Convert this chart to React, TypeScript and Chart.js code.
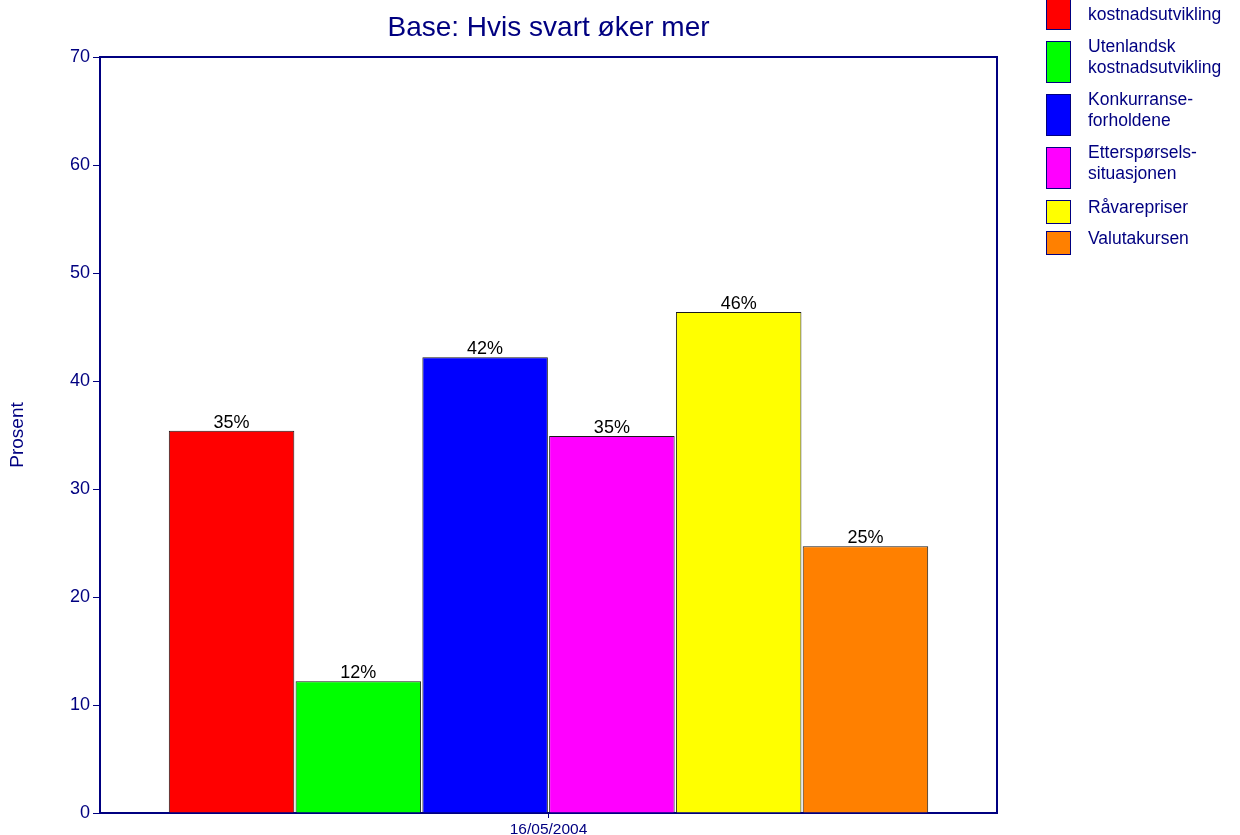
import React, { useEffect, useRef } from "react";
import { Chart, registerables } from "chart.js";

Chart.register(...registerables);

const TITLE = "Base: Hvis svart øker mer";
const categories = ["16/05/2004"];
const seriesNames = [
  "Norsk kostnadsutvikling",
  "Utenlandsk kostnadsutvikling",
  "Konkurranse-forholdene",
  "Etterspørsels-situasjonen",
  "Råvarepriser",
  "Valutakursen",
];
const legendLines = [
  ["Norsk", "kostnadsutvikling"],
  ["Utenlandsk", "kostnadsutvikling"],
  ["Konkurranse-", "forholdene"],
  ["Etterspørsels-", "situasjonen"],
  ["Råvarepriser"],
  ["Valutakursen"],
];
const seriesValues = [35.4, 12.2, 42.2, 34.9, 46.4, 24.7];
const seriesColors = ["#FF0000", "#00FF00", "#0000FF", "#FF00FF", "#FFFF00", "#FF8000"];
const yTicks = [0, 10, 20, 30, 40, 50, 60, 70];
const yTitle = "Prosent";

const NAVY = "#000080";
const FONT = "'Liberation Sans', Arial, sans-serif";

export default function App() {
  const ref = useRef<HTMLCanvasElement | null>(null);

  useEffect(() => {
    if (!ref.current) return;
    const titlePlugin = {
      id: "customTitle",
      afterDraw(chart: any) {
        const { ctx, chartArea } = chart;
        ctx.save();
        ctx.fillStyle = NAVY;
        ctx.font = `28px ${FONT}`;
        ctx.textAlign = "center";
        ctx.textBaseline = "middle";
        ctx.fillText(TITLE, (chartArea.left + chartArea.right) / 2, 28);
        ctx.restore();
      },
    };
    const framePlugin = {
      id: "frame",
      afterDraw(chart: any) {
        const { ctx, chartArea } = chart;
        ctx.save();
        ctx.strokeStyle = NAVY;
        ctx.lineWidth = 2;
        ctx.beginPath();
        ctx.moveTo(chartArea.left, chartArea.top);
        ctx.lineTo(chartArea.right, chartArea.top);
        ctx.lineTo(chartArea.right, chartArea.bottom);
        ctx.stroke();
        ctx.restore();
      },
    };
    const labelPlugin = {
      id: "valueLabels",
      afterDatasetsDraw(chart: any) {
        const { ctx } = chart;
        ctx.save();
        ctx.fillStyle = "#000000";
        ctx.font = `18px ${FONT}`;
        ctx.textAlign = "center";
        ctx.textBaseline = "bottom";
        chart.data.datasets.forEach((ds: any, i: number) => {
          const meta = chart.getDatasetMeta(i);
          meta.data.forEach((bar: any, j: number) => {
            const v = ds.data[j];
            ctx.fillText(`${Math.round(v)}%`, bar.x, bar.y + 1);
          });
        });
        ctx.restore();
      },
    };

    const chart = new Chart(ref.current, {
      type: "bar",
      data: {
        labels: categories,
        datasets: seriesNames.map((name, i) => ({
          label: name,
          data: [seriesValues[i]],
          backgroundColor: seriesColors[i],
          borderColor: "#1a1a1a",
          borderWidth: 1,
          categoryPercentage: 0.848,
          barPercentage: 0.99,
        })),
      },
      options: {
        animation: false,
        responsive: false,
        layout: { padding: { top: 57, right: 243, left: 0, bottom: 0 } },
        plugins: {
          legend: { display: false },
          tooltip: { enabled: false },
          title: { display: false },
        },
        scales: {
          x: {
            grid: {
              drawOnChartArea: false,
              offset: false,
              tickLength: 5,
              color: NAVY,
            },
            border: { color: NAVY, width: 2 },
            ticks: { color: NAVY, font: { size: 15.5, family: FONT }, padding: 2 },
            afterFit(scale: any) {
              scale.height = 22;
            },
          },
          y: {
            min: 0,
            max: 70,
            afterBuildTicks(scale: any) {
              scale.ticks = yTicks.map((v) => ({ value: v }));
            },
            grid: {
              drawOnChartArea: false,
              tickLength: 7,
              color: NAVY,
            },
            border: { color: NAVY, width: 2 },
            ticks: { color: NAVY, font: { size: 18, family: FONT }, padding: 3 },
            title: {
              display: true,
              text: yTitle,
              color: NAVY,
              font: { size: 19, family: FONT },
              padding: { top: 6, bottom: 0 },
            },
            afterFit(scale: any) {
              scale.width = 100;
            },
          },
        },
      } as any,
      plugins: [titlePlugin, framePlugin, labelPlugin],
    });
    return () => chart.destroy();
  }, []);

  const tops: number[] = [];
  let t = -12;
  legendLines.forEach((lines) => {
    tops.push(t);
    t += lines.length === 2 ? 53 : 31;
  });

  return (
    <div
      style={{
        position: "fixed",
        left: 0,
        top: 0,
        width: 1240,
        height: 835,
        overflow: "hidden",
        background: "#ffffff",
      }}
    >
      <canvas ref={ref} width={1240} height={835} style={{ position: "absolute", left: 0, top: 0 }} />
      {legendLines.map((lines, i) => {
        const two = lines.length === 2;
        return (
          <div key={i} style={{ position: "absolute", left: 1046, top: tops[i] }}>
            <div
              style={{
                position: "absolute",
                left: 0,
                top: 0,
                width: 23,
                height: two ? 40 : 22,
                background: seriesColors[i],
                border: `1px solid ${NAVY}`,
              }}
            />
            <div
              style={{
                position: "absolute",
                left: 42,
                top: two ? -5 : -3,
                whiteSpace: "nowrap",
                fontFamily: FONT,
                fontSize: 17.5,
                lineHeight: "21px",
                color: NAVY,
              }}
            >
              {lines.map((l, k) => (
                <div key={k}>{l}</div>
              ))}
            </div>
          </div>
        );
      })}
    </div>
  );
}
